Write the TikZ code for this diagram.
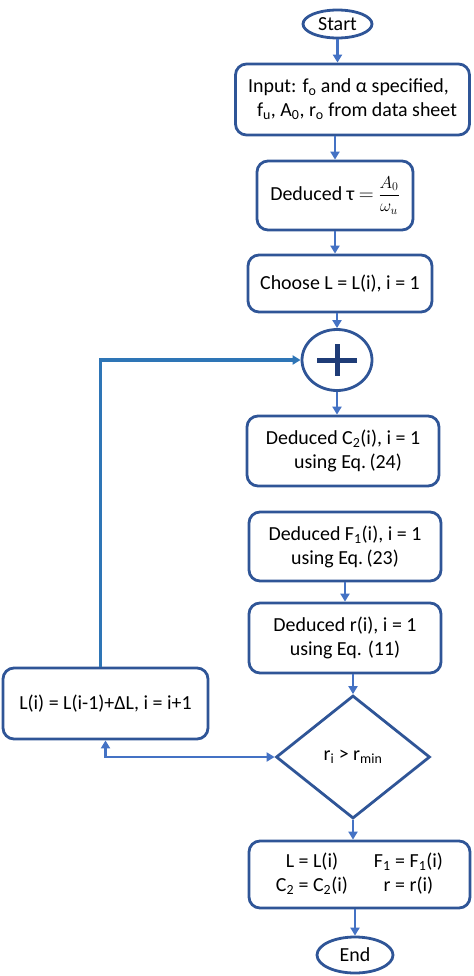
\documentclass[tikz,border=0pt]{standalone}
\usepackage{fontspec}
\usepackage{amsmath}
\setmainfont{Carlito}
\usetikzlibrary{shapes.geometric,arrows.meta}

\definecolor{boxblue}{HTML}{2F5597}
\definecolor{arrowblue}{HTML}{4472C4}
\definecolor{loopblue}{HTML}{2E75B6}
\definecolor{plusblue}{HTML}{1F3C77}

\tikzset{
  block/.style={draw=boxblue, line width=2.8bp, rounded corners=11bp, align=center, inner sep=0pt},
  term/.style={draw=boxblue, ellipse, line width=2.8bp, inner sep=0pt},
  flow/.style={draw=arrowblue, line width=2.6bp, -{Triangle[width=9bp,length=8bp]}},
  twoway/.style={flow, {Triangle[width=9bp,length=8bp]}-{Triangle[width=9bp,length=8bp]}},
}

\begin{document}
\begin{tikzpicture}[x=1bp, y=-1bp, font=\fontsize{20}{24}\selectfont]
      \useasboundingbox (0,0) rectangle (474,976);

      \begin{scope}[every node/.style={term}]
        \node[minimum width=69bp, minimum height=28bp] (start) at (337.5,24)  {Start};
        \node[minimum width=76bp, minimum height=36bp] (end)   at (355,955)   {End};
        \node[minimum width=70bp, minimum height=61bp] (sum)   at (337,360)   {};
      \end{scope}

      \begin{scope}[every node/.style={block}]
        \node[minimum width=234bp, minimum height=71bp, align=left] (input) at (352.5,99.5)
          {Input: f\textsubscript{o} and α specified,\\
           \hspace*{0.45em}f\textsubscript{u}, A\textsubscript{0}, r\textsubscript{o} from data sheet};
        \node[minimum width=156bp, minimum height=69bp] (tau)    at (335,195.5)
          {Deduced τ $=$ {\fontsize{16.5}{17}\selectfont$\dfrac{A_0}{\omega_u}$}};
        \node[minimum width=184bp, minimum height=57bp] (choose) at (340,283.5) {Choose L = L(i), i = 1};
        \node[minimum width=192bp, minimum height=70bp] (c2)     at (343,451)   {Deduced C\textsubscript{2}(i), i = 1\\ \hspace*{0.5em}using Eq.\,(24)};
        \node[minimum width=192bp, minimum height=69bp] (f1)     at (345,546.5) {Deduced F\textsubscript{1}(i), i = 1\\ using Eq.\,(23)};
        \node[minimum width=192bp, minimum height=70bp] (rbox)   at (345,638)   {Deduced r(i), i = 1\\ using Eq. (11)};
        \node[minimum width=205bp, minimum height=71bp] (lbox)   at (105.5,703.5) {L(i) = L(i-1)+ΔL, i = i+1};
        \node[minimum width=221bp, minimum height=67bp] (result) at (359.5,874.5)
          {\begin{tabular}{@{}c@{\hspace{26bp}}c@{}}
             L = L(i) & F\textsubscript{1} = F\textsubscript{1}(i)\\
             C\textsubscript{2} = C\textsubscript{2}(i) & r = r(i)
           \end{tabular}};
      \end{scope}

      \node[diamond, draw=boxblue, line width=2.8bp, inner sep=0pt,
            minimum width=154bp, minimum height=123bp] (cond) at (353,757)
        {r\textsubscript{i} > r\textsubscript{min}};

      % plus sign of the summing junction
      \draw[plusblue, line width=5bp] ([xshift=-20bp]sum.center) -- ([xshift=20bp]sum.center);
      \draw[plusblue, line width=5bp] ([yshift=16bp]sum.center) -- ([yshift=-16bp]sum.center);

      \begin{scope}[every edge/.style={flow}]
        \path (start.south)            edge (start.south |- input.north);
        \path (tau.north |- input.south) edge (tau.north);
        \path (tau.south)              edge (tau.south |- choose.north);
        \path (sum.north |- choose.south) edge (sum.north);
        \path (sum.south)              edge (sum.south |- c2.north);
        \path (f1.south)               edge (f1.south |- rbox.north);
        \path (cond.north |- rbox.south) edge (cond.north);
        \path (cond.south)             edge (cond.south |- result.north);
        \path (end.north |- result.south) edge (end.north);
      \end{scope}

      \draw[flow, draw=loopblue, line width=3.6bp] ([xshift=-5bp]lbox.north) |- (sum.west);
      \draw[twoway] (lbox.south) |- (cond.west);

\end{tikzpicture}
\end{document}
